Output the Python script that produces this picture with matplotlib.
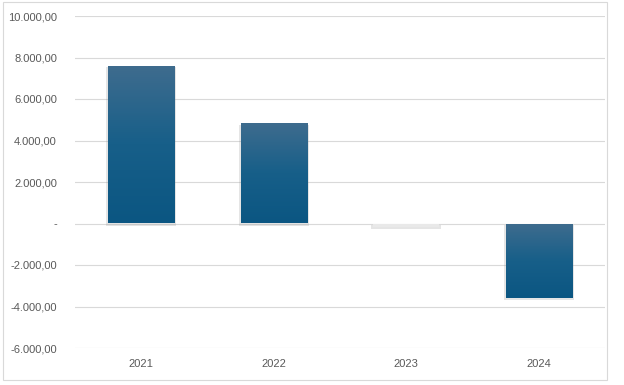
import numpy as np
import matplotlib
matplotlib.use("Agg")
import matplotlib.pyplot as plt
from matplotlib.colors import LinearSegmentedColormap
from matplotlib.patches import Rectangle

years = ["2021", "2022", "2023", "2024"]
values = [7570, 4820, -150, -3570]
yticks = [-6000, -4000, -2000, 0, 2000, 4000, 6000, 8000, 10000]

plt.rcParams['font.family'] = ['Liberation Sans', 'DejaVu Sans']

def fmt(v):
    if v == 0:
        return "-"
    s = "{:,.2f}".format(v)
    return s.replace(",", "X").replace(".", ",").replace("X", ".")

fig = plt.figure(figsize=(6.24, 3.85), dpi=100)
ax = fig.add_axes([75/624, 37/385, 530/624, 332/385])

# outer chart border
fig.patches.append(Rectangle((3/624, 5/385), 604/624, 378/385, transform=fig.transFigure,
                             fill=False, edgecolor='#d9d9d9', linewidth=0.8))

x = np.arange(len(years))
width = 0.5
cmap = LinearSegmentedColormap.from_list("bluegrad", ["#0b5682", "#175f89", "#3f6c8e"])

for i, v in enumerate(values):
    lo, hi = min(0, v), max(0, v)
    # soft shadow, a bit below and around the bar
    ax.bar(x[i], hi - lo + 80, width=width + 0.025, bottom=lo - 130,
           color='#8c8c8c', alpha=0.22, zorder=2, linewidth=0)
    if years[i] == "2023":
        ax.bar(x[i], v, width=width, color='#e9e9e9', zorder=3, linewidth=0)
        continue
    b = ax.bar(x[i], v, width=width, color='none', zorder=3, linewidth=0)[0]
    grad = np.linspace(0, 1, 256).reshape(-1, 1)
    im = ax.imshow(grad, cmap=cmap, aspect='auto', origin='lower',
                   extent=[x[i] - width/2, x[i] + width/2, lo, hi], zorder=3)
    im.set_clip_path(b)

ax.set_xlim(-0.5, 3.5)
ax.set_ylim(-6000, 10000)
ax.set_yticks(yticks)
ax.set_yticklabels([fmt(t) for t in yticks])
ax.set_xticks(x)
ax.set_xticklabels(years)
ax.grid(axis='y', color='#d9d9d9', linewidth=0.8, zorder=0)
ax.set_axisbelow(True)
for s in ax.spines.values():
    s.set_visible(False)
ax.tick_params(axis='both', length=0, colors='#595959', labelsize=8)
ax.tick_params(axis='y', pad=13)
ax.tick_params(axis='x', pad=8)

fig.savefig("out.png", dpi=100)
